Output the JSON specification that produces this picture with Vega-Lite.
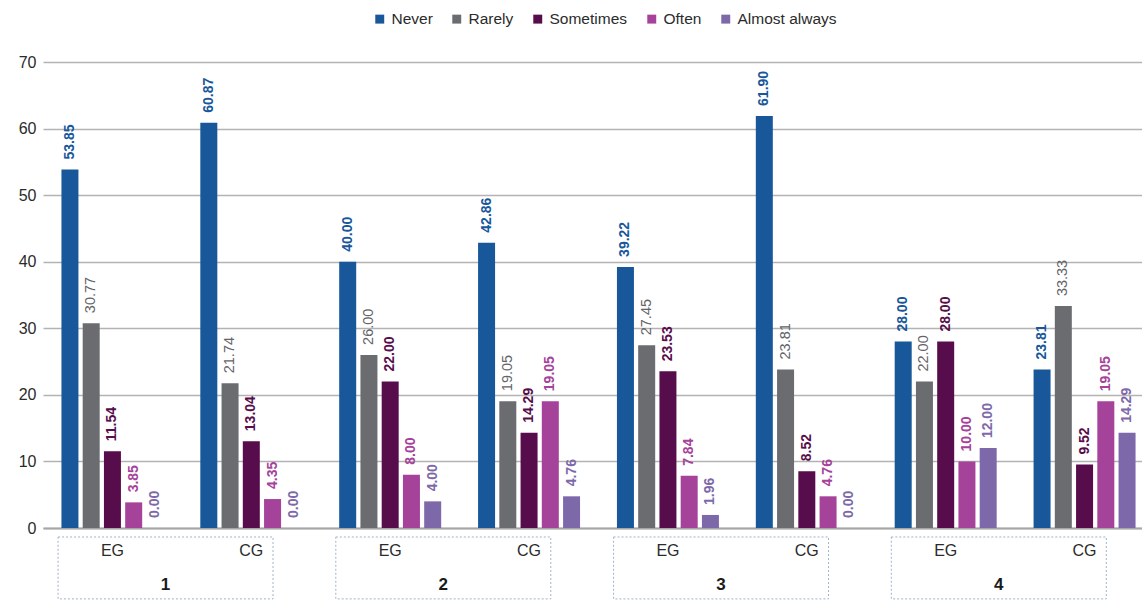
{
  "$schema": "https://vega.github.io/schema/vega-lite/v6.json",
  "width": 1111,
  "height": 466,
  "padding": {"left": 18, "top": 11, "right": 0, "bottom": 0},
  "autosize": {"type": "pad"},
  "background": "white",
  "config": {
    "font": "Liberation Sans",
    "view": {"stroke": null},
    "axis": {"labelFont": "Liberation Sans", "labelColor": "#2b2b2b"}
  },
  "data": {
    "values": [
      {"group": "1", "cat": "1 EG", "series": "Never", "value": 53.85},
      {"group": "1", "cat": "1 EG", "series": "Rarely", "value": 30.77},
      {"group": "1", "cat": "1 EG", "series": "Sometimes", "value": 11.54},
      {"group": "1", "cat": "1 EG", "series": "Often", "value": 3.85},
      {"group": "1", "cat": "1 EG", "series": "Almost always", "value": 0.0},
      {"group": "1", "cat": "1 CG", "series": "Never", "value": 60.87},
      {"group": "1", "cat": "1 CG", "series": "Rarely", "value": 21.74},
      {"group": "1", "cat": "1 CG", "series": "Sometimes", "value": 13.04},
      {"group": "1", "cat": "1 CG", "series": "Often", "value": 4.35},
      {"group": "1", "cat": "1 CG", "series": "Almost always", "value": 0.0},
      {"group": "2", "cat": "2 EG", "series": "Never", "value": 40.0},
      {"group": "2", "cat": "2 EG", "series": "Rarely", "value": 26.0},
      {"group": "2", "cat": "2 EG", "series": "Sometimes", "value": 22.0},
      {"group": "2", "cat": "2 EG", "series": "Often", "value": 8.0},
      {"group": "2", "cat": "2 EG", "series": "Almost always", "value": 4.0},
      {"group": "2", "cat": "2 CG", "series": "Never", "value": 42.86},
      {"group": "2", "cat": "2 CG", "series": "Rarely", "value": 19.05},
      {"group": "2", "cat": "2 CG", "series": "Sometimes", "value": 14.29},
      {"group": "2", "cat": "2 CG", "series": "Often", "value": 19.05},
      {"group": "2", "cat": "2 CG", "series": "Almost always", "value": 4.76},
      {"group": "3", "cat": "3 EG", "series": "Never", "value": 39.22},
      {"group": "3", "cat": "3 EG", "series": "Rarely", "value": 27.45},
      {"group": "3", "cat": "3 EG", "series": "Sometimes", "value": 23.53},
      {"group": "3", "cat": "3 EG", "series": "Often", "value": 7.84},
      {"group": "3", "cat": "3 EG", "series": "Almost always", "value": 1.96},
      {"group": "3", "cat": "3 CG", "series": "Never", "value": 61.9},
      {"group": "3", "cat": "3 CG", "series": "Rarely", "value": 23.81},
      {"group": "3", "cat": "3 CG", "series": "Sometimes", "value": 8.52},
      {"group": "3", "cat": "3 CG", "series": "Often", "value": 4.76},
      {"group": "3", "cat": "3 CG", "series": "Almost always", "value": 0.0},
      {"group": "4", "cat": "4 EG", "series": "Never", "value": 28.0},
      {"group": "4", "cat": "4 EG", "series": "Rarely", "value": 22.0},
      {"group": "4", "cat": "4 EG", "series": "Sometimes", "value": 28.0},
      {"group": "4", "cat": "4 EG", "series": "Often", "value": 10.0},
      {"group": "4", "cat": "4 EG", "series": "Almost always", "value": 12.0},
      {"group": "4", "cat": "4 CG", "series": "Never", "value": 23.81},
      {"group": "4", "cat": "4 CG", "series": "Rarely", "value": 33.33},
      {"group": "4", "cat": "4 CG", "series": "Sometimes", "value": 9.52},
      {"group": "4", "cat": "4 CG", "series": "Often", "value": 19.05},
      {"group": "4", "cat": "4 CG", "series": "Almost always", "value": 14.29}
    ]
  },
  "layer": [
    {
      "encoding": {
        "x": {
          "field": "cat",
          "type": "nominal",
          "sort": ["1 EG", "1 CG", "2 EG", "2 CG", "3 EG", "3 CG", "4 EG", "4 CG"],
          "scale": {"paddingInner": 0.235, "paddingOuter": 0.1175},
          "axis": {
            "title": null,
            "labelExpr": "slice(datum.value, 2)",
            "labelAngle": 0,
            "labelFontSize": 16,
            "labelPadding": 14,
            "ticks": false,
            "domainColor": "#a6a6a6",
            "domainWidth": 2,
            "grid": false
          }
        },
        "xOffset": {
          "field": "series",
          "type": "nominal",
          "sort": ["Never", "Rarely", "Sometimes", "Often", "Almost always"],
          "scale": {"paddingInner": 0.2, "paddingOuter": 0.1}
        },
        "y": {
          "field": "value",
          "type": "quantitative",
          "title": null,
          "scale": {"domain": [0, 70], "nice": false},
          "axis": {
            "title": null,
            "values": [0, 10, 20, 30, 40, 50, 60, 70],
            "labelFontSize": 16,
            "labelPadding": 7,
            "ticks": false,
            "domain": false,
            "grid": true,
            "gridColor": "#b3b3b3",
            "gridWidth": 1.4
          }
        }
      },
      "layer": [
        {
          "mark": {"type": "bar"},
          "encoding": {
            "color": {
              "field": "series",
              "type": "nominal",
              "sort": ["Never", "Rarely", "Sometimes", "Often", "Almost always"],
              "scale": {
                "domain": ["Never", "Rarely", "Sometimes", "Often", "Almost always"],
                "range": ["#17579a", "#6b6c70", "#570d4b", "#a5429a", "#7d69a9"]
              },
              "legend": {
                "title": null,
                "orient": "none",
                "direction": "horizontal",
                "columns": 5,
                "legendX": 329,
                "legendY": -51,
                "symbolType": "square",
                "symbolSize": 80,
                "symbolStrokeWidth": 0,
                "labelFontSize": 15.5,
                "labelColor": "#2b2b2b",
                "labelOffset": 4,
                "columnPadding": 16
              }
            }
          }
        },
        {
          "transform": [{"filter": "datum.series != 'Rarely'"}],
          "mark": {"type": "text", "angle": 270, "align": "left", "baseline": "middle", "dx": 10, "fontSize": 14, "fontWeight": "bold"},
          "encoding": {
            "text": {"field": "value", "type": "quantitative", "format": ".2f"},
            "color": {
              "field": "series",
              "type": "nominal",
              "scale": {
                "domain": ["Never", "Rarely", "Sometimes", "Often", "Almost always"],
                "range": ["#17579a", "#6b6c70", "#570d4b", "#a5429a", "#7d69a9"]
              },
              "legend": null
            }
          }
        },
        {
          "transform": [{"filter": "datum.series == 'Rarely'"}],
          "mark": {"type": "text", "angle": 270, "align": "left", "baseline": "middle", "dx": 10, "fontSize": 14.5, "color": "#636468"},
          "encoding": {
            "text": {"field": "value", "type": "quantitative", "format": ".2f"}
          }
        }
      ]
    },
    {
      "data": {"values": [{"group": "1"}, {"group": "2"}, {"group": "3"}, {"group": "4"}]},
      "encoding": {
        "x": {
          "field": "group",
          "type": "nominal",
          "scale": {"paddingInner": 0.226, "paddingOuter": 0.113, "align": 0.24},
          "axis": null
        }
      },
      "layer": [
        {
          "mark": {"type": "rect", "fill": null, "stroke": "#9db4cc", "strokeWidth": 1, "strokeDash": [2, 2]},
          "encoding": {
            "y": {"datum": -1.35, "type": "quantitative", "title": null, "scale": {"domain": [0, 70], "nice": false}},
            "y2": {"datum": -10.65}
          }
        },
        {
          "mark": {"type": "text", "fontSize": 17, "fontWeight": "bold", "color": "#1a1a1a", "baseline": "middle"},
          "encoding": {
            "text": {"field": "group"},
            "y": {"datum": -8.6, "type": "quantitative", "title": null, "scale": {"domain": [0, 70], "nice": false}}
          }
        }
      ]
    }
  ],
  "resolve": {"scale": {"x": "independent", "color": "shared"}, "axis": {"x": "independent"}}
}
